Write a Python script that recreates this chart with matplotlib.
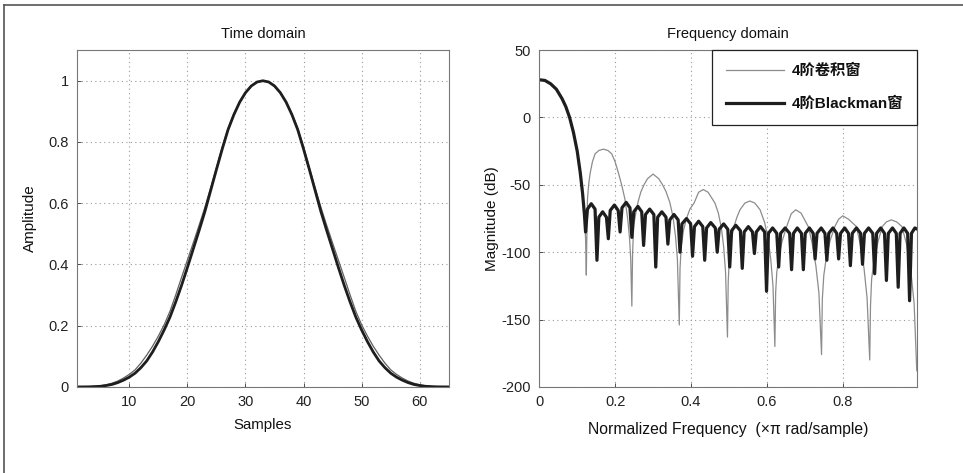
import matplotlib
matplotlib.use("Agg")
import matplotlib.pyplot as plt
from matplotlib.lines import Line2D

plt.rcParams['font.family'] = ['Liberation Sans', 'Noto Sans CJK SC', 'DejaVu Sans']
plt.rcParams['axes.unicode_minus'] = False

# ---------------- data ----------------
samples = list(range(1, 66))
conv_time = [0, 0.0001, 0.0005, 0.0015, 0.0035, 0.007, 0.012, 0.019, 0.029, 0.041, 0.056,
             0.078, 0.104, 0.133, 0.166, 0.203, 0.247, 0.301, 0.358, 0.414, 0.47, 0.527,
             0.586, 0.65, 0.716, 0.784, 0.845, 0.892, 0.931, 0.961, 0.983, 0.996, 1.0,
             0.996, 0.983, 0.961, 0.931, 0.892, 0.845, 0.784, 0.716, 0.65, 0.586, 0.527,
             0.47, 0.414, 0.358, 0.301, 0.247, 0.203, 0.166, 0.133, 0.104, 0.078, 0.056,
             0.041, 0.029, 0.019, 0.012, 0.007, 0.0035, 0.0015, 0.0005, 0.0001, 0]
blackman_time = [0, 0.0001, 0.0003, 0.001, 0.002, 0.0045, 0.008, 0.014, 0.022, 0.032, 0.045,
                 0.063, 0.085, 0.114, 0.148, 0.186, 0.228, 0.278, 0.332, 0.39, 0.45, 0.51,
                 0.572, 0.641, 0.71, 0.777, 0.84, 0.889, 0.93, 0.961, 0.983, 0.996, 1.0,
                 0.996, 0.983, 0.961, 0.93, 0.889, 0.84, 0.777, 0.71, 0.641, 0.572, 0.51,
                 0.45, 0.39, 0.332, 0.278, 0.228, 0.186, 0.148, 0.114, 0.085, 0.063, 0.045,
                 0.032, 0.022, 0.014, 0.008, 0.0045, 0.002, 0.001, 0.0003, 0.0001, 0]

conv_freq = [0.000, 0.015, 0.030, 0.045, 0.060, 0.070, 0.080, 0.090, 0.100, 0.108, 0.114, 0.119, 0.122, 0.124,
             0.125, 0.127, 0.130, 0.134, 0.140, 0.147, 0.157, 0.169, 0.181, 0.191, 0.200, 0.209,
             0.218, 0.226, 0.233, 0.238, 0.241, 0.244,
             0.246, 0.249, 0.255, 0.261, 0.268, 0.276, 0.285, 0.300, 0.315, 0.325, 0.334, 0.344,
             0.352, 0.359, 0.364, 0.369,
             0.371, 0.374, 0.380, 0.388, 0.397, 0.408, 0.420, 0.432, 0.445, 0.463, 0.472, 0.480,
             0.486, 0.491, 0.496,
             0.498, 0.501, 0.506, 0.513, 0.521, 0.529, 0.542, 0.555, 0.568, 0.582, 0.594, 0.603,
             0.610, 0.616, 0.621,
             0.623, 0.626, 0.632, 0.640, 0.652, 0.664, 0.676, 0.690, 0.709, 0.719, 0.729, 0.737, 0.744,
             0.746, 0.750, 0.757, 0.767, 0.779, 0.789, 0.800, 0.815, 0.836, 0.846, 0.856, 0.864, 0.871,
             0.873, 0.876, 0.883, 0.893, 0.904, 0.915, 0.928, 0.942, 0.956, 0.968, 0.979, 0.988, 0.995]
conv_db = [28, 27.5, 25, 21, 14, 8, 0, -11, -25, -41, -56, -73, -90, -117,
           -95, -61, -50, -41.5, -33, -27, -24.5, -23.5, -24.5, -27, -33, -41.5,
           -51, -61, -75, -90, -105, -140,
           -100, -80, -70, -62, -55, -50, -45.5, -42, -45.5, -50, -55, -63,
           -73, -88, -105, -154,
           -112, -96, -84, -75, -68, -63.5, -55.5, -53.5, -55.5, -63.5, -71, -82,
           -96, -115, -163,
           -122, -104, -90, -81, -74, -68.5, -63.5, -62, -63.5, -68.5, -78, -90,
           -105, -125, -170,
           -130, -115, -102, -92, -81, -71.5, -68.5, -71, -81, -93, -110, -130, -176,
           -135, -117, -103, -91, -81, -75.5, -73, -75.5, -81, -94, -112, -134, -180,
           -140, -120, -105, -92, -81, -77.5, -76, -77.5, -81, -94, -113, -138, -188]

blackman_freq = [0.000, 0.015, 0.030, 0.045, 0.060, 0.070, 0.080, 0.090, 0.100, 0.108, 0.114, 0.119, 0.122,
                 0.127, 0.137, 0.147, 0.152, 0.157, 0.167, 0.177, 0.182, 0.187, 0.198, 0.208, 0.213,
                 0.218, 0.229, 0.239, 0.244, 0.249, 0.260, 0.270, 0.275, 0.280, 0.291, 0.302, 0.307,
                 0.312, 0.323, 0.334, 0.339, 0.344, 0.355, 0.366, 0.371, 0.376, 0.388, 0.399, 0.404,
                 0.409, 0.420, 0.431, 0.436, 0.441, 0.452, 0.464, 0.469, 0.474, 0.486, 0.497, 0.502,
                 0.507, 0.518, 0.530, 0.535, 0.540, 0.551, 0.562, 0.567, 0.572, 0.583, 0.594, 0.599,
                 0.604, 0.615, 0.626, 0.631, 0.636, 0.648, 0.660, 0.665, 0.670, 0.680, 0.691, 0.696,
                 0.701, 0.712, 0.722, 0.727, 0.732, 0.743, 0.753, 0.758, 0.763, 0.774, 0.784, 0.789,
                 0.794, 0.805, 0.815, 0.820, 0.825, 0.836, 0.847, 0.852, 0.857, 0.868, 0.879, 0.884,
                 0.889, 0.900, 0.910, 0.915, 0.920, 0.931, 0.941, 0.946, 0.951, 0.961, 0.971, 0.976,
                 0.981, 0.990, 0.997]
blackman_db = [28, 27.5, 25, 21, 14, 8, 0, -11, -25, -41, -56, -72, -85,
               -68, -64, -68, -106, -74, -70, -74, -90, -69, -65, -69, -85,
               -67, -63, -67, -89, -70, -66, -70, -95, -72, -68, -72, -111,
               -74, -70, -74, -94, -76, -72, -76, -100, -79, -75, -79, -103,
               -81, -77, -81, -106, -82, -78, -82, -100, -83, -79, -83, -111,
               -84, -80, -84, -112, -85, -81, -85, -101, -85, -81, -85, -129,
               -86, -82, -86, -111, -86, -82, -86, -113, -86, -82, -86, -113,
               -86, -82, -86, -105, -86, -82, -86, -106, -86, -82, -86, -105,
               -86, -82, -86, -110, -86, -82, -86, -109, -86, -82, -86, -116,
               -86, -82, -86, -121, -86, -82, -86, -126, -86, -82, -86, -136,
               -86, -82, -83]

time_xticks = [10, 20, 30, 40, 50, 60]
time_yticks = [0, 0.2, 0.4, 0.6, 0.8, 1]
freq_xticks = [0, 0.2, 0.4, 0.6, 0.8]
freq_yticks = [-200, -150, -100, -50, 0, 50]
legend_labels = ['4阶卷积窗', '4阶Blackman窗']

# ---------------- figure ----------------
fig = plt.figure(figsize=(9.63, 4.73), dpi=100)
fig.patch.set_facecolor('white')

ax1 = fig.add_axes([0.080, 0.182, 0.386, 0.712])
ax2 = fig.add_axes([0.560, 0.182, 0.392, 0.712])

grid_kw = dict(color='#9a9a9a', linestyle=(0, (1, 3)), linewidth=0.8)

def style(ax):
    ax.grid(True, **grid_kw)
    ax.tick_params(direction='in', length=3, width=0.6, colors='#333333',
                   labelsize=10.5, pad=6, labelcolor='#222222')
    for s in ax.spines.values():
        s.set_color('#777777')
        s.set_linewidth(0.8)

# Time domain
ax1.plot(samples, conv_time, color='#606060', lw=0.9)
ax1.plot(samples, blackman_time, color='#1e1e1e', lw=2.0)
ax1.set_xlim(1, 65)
ax1.set_ylim(0, 1.1)
ax1.set_xticks(time_xticks)
ax1.set_yticks(time_yticks)
ax1.set_yticklabels(['0', '0.2', '0.4', '0.6', '0.8', '1'])
style(ax1)
ax1.set_title('Time domain', fontsize=10.5, pad=9, color='#111111')
ax1.set_xlabel('Samples', fontsize=10.8, labelpad=6, color='#111111')
ax1.set_ylabel('Amplitude', fontsize=11, labelpad=8, color='#111111')

# Frequency domain
l1, = ax2.plot(conv_freq, conv_db, color='#8c8c8c', lw=0.9)
l2, = ax2.plot(blackman_freq, blackman_db, color='#1e1e1e', lw=2.3)
ax2.set_xlim(0, 0.995)
ax2.set_ylim(-200, 50)
ax2.set_xticks(freq_xticks)
ax2.set_xticklabels(['0', '0.2', '0.4', '0.6', '0.8'])
ax2.set_yticks(freq_yticks)
style(ax2)
ax2.set_title('Frequency domain', fontsize=10.5, pad=9, color='#111111')
ax2.set_xlabel('Normalized Frequency  (\u00d7\u03c0 rad/sample)', fontsize=11.3,
               labelpad=9, color='#111111')
ax2.set_ylabel('Magnitude (dB)', fontsize=11, labelpad=2, color='#111111')

leg = ax2.legend([l1, l2], legend_labels, loc='upper right', fancybox=False,
                 edgecolor='#222222', framealpha=1, borderaxespad=0,
                 handlelength=3.86, handletextpad=0.46, borderpad=0.9,
                 labelspacing=1.2, prop={'family': ['Liberation Sans', 'Noto Sans CJK SC'],
                                         'size': 11, 'weight': 'bold'})
leg.get_frame().set_linewidth(0.9)
for t in leg.get_texts():
    t.set_color('#111111')

# outer frame lines of the screenshot
fig.add_artist(Line2D([0.004, 0.004], [0.0, 0.99], transform=fig.transFigure,
                      color='#555555', lw=1.2))
fig.add_artist(Line2D([0.004, 1.0], [0.99, 0.99], transform=fig.transFigure,
                      color='#555555', lw=1.2))

fig.savefig('out.png', dpi=100, facecolor='white')
